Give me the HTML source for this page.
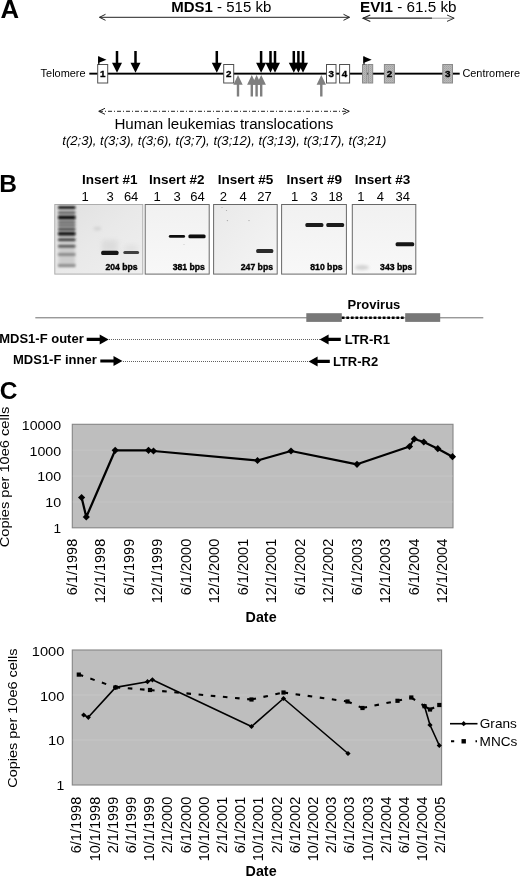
<!DOCTYPE html>
<html lang="en"><head><meta charset="utf-8"><title>MDS1-EVI1 insertion figure</title>
<style>
html,body{margin:0;padding:0;background:#fff;}
body{width:520px;height:877px;overflow:hidden;}
svg{display:block;font-family:"Liberation Sans",Arial,Helvetica,sans-serif;fill:#000;}
.b{font-weight:bold;}
.i{font-style:italic;}
</style></head><body>
<svg width="520" height="877" viewBox="0 0 520 877">
<defs>
<filter id="bl" x="-20%" y="-100%" width="140%" height="300%"><feGaussianBlur stdDeviation="0.7"/></filter>
<filter id="bl2" x="-20%" y="-100%" width="140%" height="300%"><feGaussianBlur stdDeviation="1.6"/></filter>
<filter id="bl3" x="-30%" y="-30%" width="160%" height="160%"><feGaussianBlur stdDeviation="2.5"/></filter>
<filter id="blL" x="-20%" y="-100%" width="140%" height="300%"><feGaussianBlur stdDeviation="0.85"/></filter>
<filter id="soft"><feGaussianBlur stdDeviation="0.35"/></filter>
<linearGradient id="g1" x1="0" y1="0" x2="1" y2="1"><stop offset="0" stop-color="#e0e0e0"/><stop offset="0.5" stop-color="#e9e9e9"/><stop offset="1" stop-color="#efefef"/></linearGradient>
<linearGradient id="g2" x1="0" y1="0" x2="0" y2="1"><stop offset="0" stop-color="#f1f1f1"/><stop offset="1" stop-color="#f8f8f8"/></linearGradient>
<linearGradient id="g3" x1="0" y1="0" x2="1" y2="1"><stop offset="0" stop-color="#e9e9e9"/><stop offset="1" stop-color="#f5f5f5"/></linearGradient>
<pattern id="st" width="2" height="2" patternUnits="userSpaceOnUse"><rect width="2" height="2" fill="#b9b9b9"/><rect width="1" height="1" fill="#a2a2a2"/><rect x="1" y="1" width="1" height="1" fill="#adadad"/></pattern>
</defs>
<rect width="520" height="877" fill="#fff"/>

<g id="panelA">
<text class="b" x="0.6" y="18.2" font-size="25" textLength="18.6" lengthAdjust="spacingAndGlyphs">A</text>
<text x="171.3" y="11.7" font-size="14" textLength="100" lengthAdjust="spacingAndGlyphs"><tspan class="b">MDS1</tspan> - 515 kb</text>
<text x="360" y="11.7" font-size="14" textLength="96.5" lengthAdjust="spacingAndGlyphs"><tspan class="b">EVI1</tspan> - 61.5 kb</text>
<g fill="none" stroke="#222" stroke-width="1">
<path d="M99.5 17.3H349.5"/><path d="M105.5 14.3L99.5 17.3L105.5 20.3"/><path d="M343.5 14.3L349.5 17.3L343.5 20.3"/>
</g>
<g fill="none" stroke="#222" stroke-width="1.25">
<path d="M363 18.2H432"/><path d="M370.3 14.9L363 18.2L370.3 21.5" stroke-width="1.1"/></g>
<g fill="none" stroke="#999" stroke-width="1"><path d="M432 18.2H454"/></g>
<g fill="none" stroke="#333" stroke-width="1"><path d="M447 15L454.2 18.2L447 21.4"/></g>
<text x="40.6" y="76.6" font-size="10.5" textLength="45" lengthAdjust="spacingAndGlyphs">Telomere</text>
<text x="462.4" y="76.6" font-size="10.5" textLength="57.6" lengthAdjust="spacingAndGlyphs">Centromere</text>
<rect x="89.3" y="72.7" width="370.4" height="1.9" fill="#000"/>
<rect x="97.7" y="64.5" width="10" height="18.5" fill="#fff" stroke="#505050" stroke-width="1"/>
<text class="b" x="102.7" y="77.1" font-size="9.8" text-anchor="middle" stroke="#000" stroke-width="0.35">1</text>
<rect x="223.7" y="64.5" width="10" height="18.5" fill="#fff" stroke="#505050" stroke-width="1"/>
<text class="b" x="228.7" y="77.1" font-size="9.8" text-anchor="middle" stroke="#000" stroke-width="0.35">2</text>
<rect x="326.5" y="64.5" width="9.5" height="18.5" fill="#fff" stroke="#505050" stroke-width="1"/>
<text class="b" x="331.25" y="77.1" font-size="9.8" text-anchor="middle" stroke="#000" stroke-width="0.35">3</text>
<rect x="339.6" y="64.5" width="10" height="18.5" fill="#fff" stroke="#505050" stroke-width="1"/>
<text class="b" x="344.6" y="77.1" font-size="9.8" text-anchor="middle" stroke="#000" stroke-width="0.35">4</text>
<rect x="362.5" y="64.5" width="4.5" height="18.5" fill="url(#st)" stroke="#8a8a8a" stroke-width="1"/>
<rect x="368.2" y="64.5" width="4.5" height="18.5" fill="url(#st)" stroke="#8a8a8a" stroke-width="1"/>
<rect x="384.4" y="64.5" width="10" height="18.5" fill="url(#st)" stroke="#8a8a8a" stroke-width="1"/>
<text class="b" x="389.4" y="77.1" font-size="9.8" text-anchor="middle" stroke="#000" stroke-width="0.35">2</text>
<rect x="442.8" y="64.5" width="9.7" height="18.5" fill="url(#st)" stroke="#8a8a8a" stroke-width="1"/>
<text class="b" x="447.65000000000003" y="77.1" font-size="9.8" text-anchor="middle" stroke="#000" stroke-width="0.35">3</text>
<path d="M98.8 64.5V56.6" stroke="#000" stroke-width="1.2" fill="none"/><path d="M98.2 56.2L106.5 59.7L98.2 63Z" fill="#000"/>
<path d="M364 64.5V56.6" stroke="#000" stroke-width="1.2" fill="none"/><path d="M363.4 56.2L371.7 59.7L363.4 63Z" fill="#000"/>
<path d="M115.75 51H118.25V62.8H122L117 72.8L112 62.8H115.75Z" fill="#000"/>
<path d="M134.25 51H136.75V62.8H140.5L135.5 72.8L130.5 62.8H134.25Z" fill="#000"/>
<path d="M215.55 51H218.05V62.8H221.8L216.8 72.8L211.8 62.8H215.55Z" fill="#000"/>
<path d="M259.85 51H262.35V62.8H266.1L261.1 72.8L256.1 62.8H259.85Z" fill="#000"/>
<path d="M269.25 51H271.75V62.8H275.5L270.5 72.8L265.5 62.8H269.25Z" fill="#000"/>
<path d="M273.75 51H276.25V62.8H280L275 72.8L270 62.8H273.75Z" fill="#000"/>
<path d="M292.55 51H295.05V62.8H298.8L293.8 72.8L288.8 62.8H292.55Z" fill="#000"/>
<path d="M297.15 51H299.65V62.8H303.4L298.4 72.8L293.4 62.8H297.15Z" fill="#000"/>
<path d="M301.75 51H304.25V62.8H308L303 72.8L298 62.8H301.75Z" fill="#000"/>
<path d="M236.8 96.5H239.2V84.8H242.7L238 75L233.3 84.8H236.8Z" fill="#7f7f7f"/>
<path d="M250.60000000000002 96.5H253.0V84.8H256.5L251.8 75L247.10000000000002 84.8H250.60000000000002Z" fill="#7f7f7f"/>
<path d="M255.40000000000003 96.5H257.8V84.8H261.3L256.6 75L251.90000000000003 84.8H255.40000000000003Z" fill="#7f7f7f"/>
<path d="M260.0 96.5H262.4V84.8H265.9L261.2 75L256.5 84.8H260.0Z" fill="#7f7f7f"/>
<path d="M320.1 96.5H322.5V84.8H326.0L321.3 75L316.6 84.8H320.1Z" fill="#7f7f7f"/>
<g fill="none" stroke="#222" stroke-width="1"><path d="M99 111.3H349" stroke-dasharray="4 2 1 2"/><path d="M105 108.3L98.7 111.3L105 114.3"/><path d="M343 108.3L349.3 111.3L343 114.3"/></g>
<text x="114.4" y="128.7" font-size="15.1" textLength="219" lengthAdjust="spacingAndGlyphs">Human leukemias translocations</text>
<text class="i" x="62.3" y="145" font-size="13" textLength="324" lengthAdjust="spacingAndGlyphs">t(2;3), t(3;3), t(3;6), t(3;7), t(3;12), t(3;13), t(3;17), t(3;21)</text>
</g>
<g id="panelB">
<text class="b" x="-0.8" y="191.7" font-size="24.5">B</text>
<text class="b" x="81.9" y="184.3" font-size="13" textLength="55.6" lengthAdjust="spacingAndGlyphs">Insert #1</text>
<text x="81.5" y="200.8" font-size="13">1</text>
<text x="106.6" y="200.8" font-size="13">3</text>
<text x="123.89999999999999" y="200.8" font-size="13">64</text>
<rect x="54.8" y="204.5" width="88.00000000000001" height="69.6" fill="url(#g1)" stroke="#adadad" stroke-width="1"/>
<text class="b" x="148.89999999999998" y="184.3" font-size="13" textLength="55.6" lengthAdjust="spacingAndGlyphs">Insert #2</text>
<text x="153.5" y="200.8" font-size="13">1</text>
<text x="173.5" y="200.8" font-size="13">3</text>
<text x="190.3" y="200.8" font-size="13">64</text>
<rect x="145.2" y="204.5" width="64.0" height="69.6" fill="url(#g2)" stroke="#686868" stroke-width="1"/>
<text class="b" x="217.7" y="184.3" font-size="13" textLength="55.6" lengthAdjust="spacingAndGlyphs">Insert #5</text>
<text x="219.8" y="200.8" font-size="13">2</text>
<text x="239.60000000000002" y="200.8" font-size="13">4</text>
<text x="257.3" y="200.8" font-size="13">27</text>
<rect x="213.6" y="204.5" width="63.599999999999994" height="69.6" fill="url(#g3)" stroke="#686868" stroke-width="1"/>
<text class="b" x="286.4" y="184.3" font-size="13" textLength="55.6" lengthAdjust="spacingAndGlyphs">Insert #9</text>
<text x="290.90000000000003" y="200.8" font-size="13">1</text>
<text x="310.40000000000003" y="200.8" font-size="13">3</text>
<text x="328.40000000000003" y="200.8" font-size="13">18</text>
<rect x="281.6" y="204.5" width="64.79999999999995" height="69.6" fill="url(#g2)" stroke="#686868" stroke-width="1"/>
<text class="b" x="354.8" y="184.3" font-size="13" textLength="55.6" lengthAdjust="spacingAndGlyphs">Insert #3</text>
<text x="357.3" y="200.8" font-size="13">1</text>
<text x="376.8" y="200.8" font-size="13">4</text>
<text x="395.5" y="200.8" font-size="13">34</text>
<rect x="352.3" y="204.5" width="63.5" height="69.6" fill="url(#g2)" stroke="#686868" stroke-width="1"/>
<rect x="58.5" y="207" width="16.5" height="60" fill="#cdcdcd" filter="url(#bl2)"/>
<rect x="102" y="240" width="15.5" height="12" fill="#d6d6d6" opacity="0.7" filter="url(#bl3)"/>
<rect x="124.5" y="245" width="13" height="7" fill="#dadada" opacity="0.6" filter="url(#bl3)"/>
<g filter="url(#blL)">
<rect x="58" y="205.90" width="17.5" height="3.0" rx="1" fill="#1c1c1c"/>
<rect x="58" y="211.50" width="17.5" height="2.2" rx="1" fill="#505050"/>
<rect x="58" y="215.60" width="17.5" height="3.8" rx="1" fill="#080808"/>
<rect x="58" y="221.20" width="17.5" height="2.0" rx="1" fill="#505050"/>
<rect x="58" y="224.50" width="17.5" height="2.0" rx="1" fill="#505050"/>
<rect x="58" y="228.00" width="17.5" height="2.4" rx="1" fill="#3c3c3c"/>
<rect x="58" y="232.10" width="17.5" height="3.4" rx="1" fill="#080808"/>
<rect x="58" y="238.40" width="17.5" height="2.6" rx="1" fill="#303030"/>
<rect x="58" y="245.00" width="17.5" height="2.4" rx="1" fill="#505050"/>
<rect x="58" y="253.20" width="17.5" height="2.6" rx="1" fill="#808080"/>
<rect x="58" y="263.90" width="17.5" height="3.2" rx="1" fill="#909090"/>
</g>
<rect x="101.2" y="250.80" width="17.3" height="4.2" rx="1.5" fill="#151515" filter="url(#bl)"/>
<rect x="123.3" y="251.10" width="15.8" height="3.0" rx="1.5" fill="#404040" filter="url(#bl)"/>
<rect x="168.8" y="234.95" width="16.3" height="2.9" rx="1.5" fill="#111" filter="url(#bl)"/>
<rect x="188.4" y="234.60" width="17.2" height="3.6" rx="1.5" fill="#0c0c0c" filter="url(#bl)"/>
<rect x="256.2" y="249.10" width="17.1" height="3.8" rx="1.5" fill="#2a2a2a" filter="url(#bl)"/>
<rect x="305.4" y="223.10" width="18.0" height="3.8" rx="1.5" fill="#1a1a1a" filter="url(#bl)"/>
<rect x="326.3" y="223.10" width="17.8" height="3.8" rx="1.5" fill="#1a1a1a" filter="url(#bl)"/>
<rect x="395.6" y="242.30" width="18.6" height="4.0" rx="1.5" fill="#151515" filter="url(#bl)"/>
<g fill="#a8a8a8"><circle cx="226.5" cy="210.5" r="0.6"/><circle cx="227.4" cy="220.6" r="0.7"/><circle cx="249" cy="220.6" r="0.7"/><circle cx="222" cy="207.5" r="0.5"/><circle cx="184" cy="244.5" r="0.6" fill="#c8c8c8"/></g>
<ellipse cx="362" cy="267.5" rx="7" ry="2.5" fill="#d2d2d2" filter="url(#bl2)"/>
<ellipse cx="97.3" cy="228.6" rx="4" ry="1.8" fill="#d2d2d2" filter="url(#bl2)"/>
<text class="b" x="137.6" y="269.7" font-size="8.3" text-anchor="end" textLength="32.2" lengthAdjust="spacingAndGlyphs" stroke="#000" stroke-width="0.35">204 bps</text>
<text class="b" x="204.9" y="269.7" font-size="8.3" text-anchor="end" textLength="32.2" lengthAdjust="spacingAndGlyphs" stroke="#000" stroke-width="0.35">381 bps</text>
<text class="b" x="273" y="269.7" font-size="8.3" text-anchor="end" textLength="32.2" lengthAdjust="spacingAndGlyphs" stroke="#000" stroke-width="0.35">247 bps</text>
<text class="b" x="342.5" y="269.7" font-size="8.3" text-anchor="end" textLength="32.2" lengthAdjust="spacingAndGlyphs" stroke="#000" stroke-width="0.35">810 bps</text>
<text class="b" x="412.3" y="269.7" font-size="8.3" text-anchor="end" textLength="32.2" lengthAdjust="spacingAndGlyphs" stroke="#000" stroke-width="0.35">343 bps</text>
<rect x="35.3" y="317.3" width="448" height="1" fill="#6e6e6e"/>
<rect x="306.3" y="313.2" width="35.5" height="8.7" fill="#787878"/>
<rect x="405.2" y="313.2" width="35" height="8.7" fill="#787878"/>
<path d="M341.8 317.7H405.2" stroke="#000" stroke-width="2.5" stroke-dasharray="2.7 1.85" fill="none"/>
<text class="b" x="347.6" y="309.4" font-size="13">Provirus</text>
<text class="b" x="-0.8" y="343.3" font-size="13">MDS1-F outer</text>
<text class="b" x="13" y="364.3" font-size="13">MDS1-F inner</text>
<text class="b" x="344.7" y="344" font-size="13">LTR-R1</text>
<text class="b" x="332.9" y="366.2" font-size="13">LTR-R2</text>
<path d="M86.7 337.79999999999995H99.7V334.4L108.7 339.4L99.7 344.4V341.0H86.7Z" fill="#000"/>
<path d="M100.3 359.4H113.5V356L122.5 361L113.5 366V362.6H100.3Z" fill="#000"/>
<path d="M340.8 337.79999999999995H328.6V334.4L319.6 339.4L328.6 344.4V341.0H340.8Z" fill="#000"/>
<path d="M329.8 359.79999999999995H317.6V356.4L308.6 361.4L317.6 366.4V363.0H329.8Z" fill="#000"/>
<path d="M109 339.5H320" stroke="#606060" stroke-width="1.1" stroke-dasharray="1 1" fill="none"/>
<path d="M123 361.5H309" stroke="#606060" stroke-width="1.1" stroke-dasharray="1 1" fill="none"/>
</g>
<g id="panelC">
<text class="b" x="-0.3" y="399.3" font-size="24.5">C</text>
<rect x="72.3" y="424.3" width="380.7" height="103.49999999999994" fill="#bebebe" stroke="#858585" stroke-width="1.1"/>
<rect x="72.8" y="449.675" width="379.7" height="1" fill="#c5c5c5"/>
<rect x="72.8" y="475.54999999999995" width="379.7" height="1" fill="#c5c5c5"/>
<rect x="72.8" y="501.42499999999995" width="379.7" height="1" fill="#c5c5c5"/>
<text x="21.8" y="429.7" font-size="13.5" textLength="39.3" lengthAdjust="spacingAndGlyphs">10000</text>
<text x="29.5" y="455.6" font-size="13.5" textLength="31.6" lengthAdjust="spacingAndGlyphs">1000</text>
<text x="37.3" y="481.4" font-size="13.5" textLength="23.8" lengthAdjust="spacingAndGlyphs">100</text>
<text x="45.2" y="507.3" font-size="13.5" textLength="15.9" lengthAdjust="spacingAndGlyphs">10</text>
<text x="53.5" y="533.2" font-size="13.5" textLength="7.6" lengthAdjust="spacingAndGlyphs">1</text>
<text transform="translate(9.4 547.3) rotate(-90)" font-size="13.6" textLength="140.6" lengthAdjust="spacingAndGlyphs">Copies per 10e6 cells</text>
<polyline fill="none" stroke="#000" stroke-width="2.25" stroke-linejoin="round" points="81.6,497.5 86.3,517 115.2,450.3 148.5,450.3 153.5,451 257.5,460.5 291,451 357,464.3 409.5,446.5 414.3,439 423.8,442 437.8,448.7 452.5,456.7"/>
<path d="M81.6 493.9L85.19999999999999 497.5L81.6 501.1L78.0 497.5Z" fill="#000"/>
<path d="M86.3 513.4L89.89999999999999 517L86.3 520.6L82.7 517Z" fill="#000"/>
<path d="M115.2 446.7L118.8 450.3L115.2 453.90000000000003L111.60000000000001 450.3Z" fill="#000"/>
<path d="M148.5 446.7L152.1 450.3L148.5 453.90000000000003L144.9 450.3Z" fill="#000"/>
<path d="M153.5 447.4L157.1 451L153.5 454.6L149.9 451Z" fill="#000"/>
<path d="M257.5 456.9L261.1 460.5L257.5 464.1L253.9 460.5Z" fill="#000"/>
<path d="M291 447.4L294.6 451L291 454.6L287.4 451Z" fill="#000"/>
<path d="M357 460.7L360.6 464.3L357 467.90000000000003L353.4 464.3Z" fill="#000"/>
<path d="M409.5 442.9L413.1 446.5L409.5 450.1L405.9 446.5Z" fill="#000"/>
<path d="M414.3 435.4L417.90000000000003 439L414.3 442.6L410.7 439Z" fill="#000"/>
<path d="M423.8 438.4L427.40000000000003 442L423.8 445.6L420.2 442Z" fill="#000"/>
<path d="M437.8 445.09999999999997L441.40000000000003 448.7L437.8 452.3L434.2 448.7Z" fill="#000"/>
<path d="M452.5 453.09999999999997L456.1 456.7L452.5 460.3L448.9 456.7Z" fill="#000"/>
<text transform="translate(76.5 538.8) rotate(-90)" font-size="14.5" text-anchor="end">6/1/1998</text>
<text transform="translate(105.0 538.8) rotate(-90)" font-size="14.5" text-anchor="end">12/1/1998</text>
<text transform="translate(133.5 538.8) rotate(-90)" font-size="14.5" text-anchor="end">6/1/1999</text>
<text transform="translate(162.0 538.8) rotate(-90)" font-size="14.5" text-anchor="end">12/1/1999</text>
<text transform="translate(190.5 538.8) rotate(-90)" font-size="14.5" text-anchor="end">6/1/2000</text>
<text transform="translate(219.0 538.8) rotate(-90)" font-size="14.5" text-anchor="end">12/1/2000</text>
<text transform="translate(247.5 538.8) rotate(-90)" font-size="14.5" text-anchor="end">6/1/2001</text>
<text transform="translate(276.0 538.8) rotate(-90)" font-size="14.5" text-anchor="end">12/1/2001</text>
<text transform="translate(304.5 538.8) rotate(-90)" font-size="14.5" text-anchor="end">6/1/2002</text>
<text transform="translate(333.0 538.8) rotate(-90)" font-size="14.5" text-anchor="end">12/1/2002</text>
<text transform="translate(361.5 538.8) rotate(-90)" font-size="14.5" text-anchor="end">6/1/2003</text>
<text transform="translate(390.0 538.8) rotate(-90)" font-size="14.5" text-anchor="end">12/1/2003</text>
<text transform="translate(418.5 538.8) rotate(-90)" font-size="14.5" text-anchor="end">6/1/2004</text>
<text transform="translate(447.0 538.8) rotate(-90)" font-size="14.5" text-anchor="end">12/1/2004</text>
<text class="b" x="245.6" y="622.2" font-size="14.3">Date</text>
<rect x="72.3" y="650" width="369.3" height="135" fill="#bebebe" stroke="#858585" stroke-width="1.1"/>
<rect x="72.8" y="694.5" width="368.3" height="1" fill="#c5c5c5"/>
<rect x="72.8" y="739.5" width="368.3" height="1" fill="#c5c5c5"/>
<text x="31.8" y="656.3" font-size="13.7" textLength="32.6" lengthAdjust="spacingAndGlyphs">1000</text>
<text x="39.9" y="700.6" font-size="13.7" textLength="24.5" lengthAdjust="spacingAndGlyphs">100</text>
<text x="48.0" y="744.9" font-size="13.7" textLength="16.4" lengthAdjust="spacingAndGlyphs">10</text>
<text x="56.6" y="789.8" font-size="13.7" textLength="7.8" lengthAdjust="spacingAndGlyphs">1</text>
<text transform="translate(17.3 787.8) rotate(-90)" font-size="13.6" textLength="139.3" lengthAdjust="spacingAndGlyphs">Copies per 10e6 cells</text>
<path d="M78.8 674.6L115.6 687.4" fill="none" stroke="#000" stroke-width="2.1" stroke-dasharray="4.6 7.6"/>
<path d="M115.6 687.4L150 690" fill="none" stroke="#000" stroke-width="2.1" stroke-dasharray="4.6 7.6"/>
<path d="M150 690L251.5 699.5" fill="none" stroke="#000" stroke-width="2.1" stroke-dasharray="4.6 7.6"/>
<path d="M251.5 699.5L283.5 692.5" fill="none" stroke="#000" stroke-width="2.1" stroke-dasharray="4.6 7.6"/>
<path d="M283.5 692.5L347.5 701.5" fill="none" stroke="#000" stroke-width="2.1" stroke-dasharray="4.6 7.6"/>
<path d="M347.5 701.5L362.5 708" fill="none" stroke="#000" stroke-width="2.1" stroke-dasharray="4.6 7.6"/>
<path d="M362.5 708L397.5 700.8" fill="none" stroke="#000" stroke-width="2.1" stroke-dasharray="4.6 7.6"/>
<path d="M397.5 700.8L411.3 697.5" fill="none" stroke="#000" stroke-width="2.1" stroke-dasharray="4.6 7.6"/>
<path d="M411.3 697.5L424.5 706.2" fill="none" stroke="#000" stroke-width="2.1" stroke-dasharray="4.6 7.6"/>
<path d="M424.5 706.2L430 709.5" fill="none" stroke="#000" stroke-width="2.1" stroke-dasharray="4.6 7.6"/>
<path d="M430 709.5L439.3 705" fill="none" stroke="#000" stroke-width="2.1" stroke-dasharray="4.6 7.6"/>
<rect x="76.7" y="672.5" width="4.2" height="4.2" fill="#000"/>
<rect x="113.5" y="685.3" width="4.2" height="4.2" fill="#000"/>
<rect x="147.9" y="687.9" width="4.2" height="4.2" fill="#000"/>
<rect x="249.4" y="697.4" width="4.2" height="4.2" fill="#000"/>
<rect x="281.4" y="690.4" width="4.2" height="4.2" fill="#000"/>
<rect x="345.4" y="699.4" width="4.2" height="4.2" fill="#000"/>
<rect x="360.4" y="705.9" width="4.2" height="4.2" fill="#000"/>
<rect x="395.4" y="698.7" width="4.2" height="4.2" fill="#000"/>
<rect x="409.2" y="695.4" width="4.2" height="4.2" fill="#000"/>
<rect x="422.4" y="704.1" width="4.2" height="4.2" fill="#000"/>
<rect x="427.9" y="707.4" width="4.2" height="4.2" fill="#000"/>
<rect x="437.2" y="702.9" width="4.2" height="4.2" fill="#000"/>
<polyline fill="none" stroke="#000" stroke-width="1.6" stroke-linejoin="round" points="83.7,715 88.3,717.3 115.6,687.4 147.5,681.7 152.4,679.8 251.5,726.5 283.5,698.5 348,753.5"/>
<path d="M83.7 712.4L86.3 715L83.7 717.6L81.10000000000001 715Z" fill="#000"/>
<path d="M88.3 714.6999999999999L90.89999999999999 717.3L88.3 719.9L85.7 717.3Z" fill="#000"/>
<path d="M115.6 684.8L118.19999999999999 687.4L115.6 690.0L113.0 687.4Z" fill="#000"/>
<path d="M147.5 679.1L150.1 681.7L147.5 684.3000000000001L144.9 681.7Z" fill="#000"/>
<path d="M152.4 677.1999999999999L155.0 679.8L152.4 682.4L149.8 679.8Z" fill="#000"/>
<path d="M251.5 723.9L254.1 726.5L251.5 729.1L248.9 726.5Z" fill="#000"/>
<path d="M283.5 695.9L286.1 698.5L283.5 701.1L280.9 698.5Z" fill="#000"/>
<path d="M348 750.9L350.6 753.5L348 756.1L345.4 753.5Z" fill="#000"/>
<polyline fill="none" stroke="#000" stroke-width="1.6" stroke-linejoin="round" points="424.5,706.2 430,725 439.3,745.5"/>
<path d="M424.5 703.6L427.1 706.2L424.5 708.8000000000001L421.9 706.2Z" fill="#000"/>
<path d="M430 722.4L432.6 725L430 727.6L427.4 725Z" fill="#000"/>
<path d="M439.3 742.9L441.90000000000003 745.5L439.3 748.1L436.7 745.5Z" fill="#000"/>
<text transform="translate(81.3 796.8) rotate(-90)" font-size="14.5" text-anchor="end">6/1/1998</text>
<text transform="translate(99.5 796.8) rotate(-90)" font-size="14.5" text-anchor="end">10/1/1998</text>
<text transform="translate(117.7 796.8) rotate(-90)" font-size="14.5" text-anchor="end">2/1/1999</text>
<text transform="translate(135.9 796.8) rotate(-90)" font-size="14.5" text-anchor="end">6/1/1999</text>
<text transform="translate(154.1 796.8) rotate(-90)" font-size="14.5" text-anchor="end">10/1/1999</text>
<text transform="translate(172.3 796.8) rotate(-90)" font-size="14.5" text-anchor="end">2/1/2000</text>
<text transform="translate(190.5 796.8) rotate(-90)" font-size="14.5" text-anchor="end">6/1/2000</text>
<text transform="translate(208.7 796.8) rotate(-90)" font-size="14.5" text-anchor="end">10/1/2000</text>
<text transform="translate(226.9 796.8) rotate(-90)" font-size="14.5" text-anchor="end">2/1/2001</text>
<text transform="translate(245.1 796.8) rotate(-90)" font-size="14.5" text-anchor="end">6/1/2001</text>
<text transform="translate(263.3 796.8) rotate(-90)" font-size="14.5" text-anchor="end">10/1/2001</text>
<text transform="translate(281.5 796.8) rotate(-90)" font-size="14.5" text-anchor="end">2/1/2002</text>
<text transform="translate(299.7 796.8) rotate(-90)" font-size="14.5" text-anchor="end">6/1/2002</text>
<text transform="translate(317.9 796.8) rotate(-90)" font-size="14.5" text-anchor="end">10/1/2002</text>
<text transform="translate(336.1 796.8) rotate(-90)" font-size="14.5" text-anchor="end">2/1/2003</text>
<text transform="translate(354.3 796.8) rotate(-90)" font-size="14.5" text-anchor="end">6/1/2003</text>
<text transform="translate(372.5 796.8) rotate(-90)" font-size="14.5" text-anchor="end">10/1/2003</text>
<text transform="translate(390.7 796.8) rotate(-90)" font-size="14.5" text-anchor="end">2/1/2004</text>
<text transform="translate(408.9 796.8) rotate(-90)" font-size="14.5" text-anchor="end">6/1/2004</text>
<text transform="translate(427.1 796.8) rotate(-90)" font-size="14.5" text-anchor="end">10/1/2004</text>
<text transform="translate(445.3 796.8) rotate(-90)" font-size="14.5" text-anchor="end">2/1/2005</text>
<text class="b" x="245.6" y="876.3" font-size="14.3">Date</text>
<path d="M450 723.7H477.5" stroke="#000" stroke-width="1.6" fill="none"/>
<path d="M463.7 721.1L466.3 723.7L463.7 726.3L461.1 723.7Z" fill="#000"/>
<text x="479.8" y="728" font-size="13.6">Grans</text>
<path d="M451 741.3H478" stroke="#000" stroke-width="2.1" stroke-dasharray="3.2 21.3 1.5 30" fill="none"/>
<rect x="461.5" y="739.1" width="4.4" height="4.4" fill="#000"/>
<text x="479.6" y="745.8" font-size="13.6">MNCs</text>
</g>
</svg>
</body></html>
